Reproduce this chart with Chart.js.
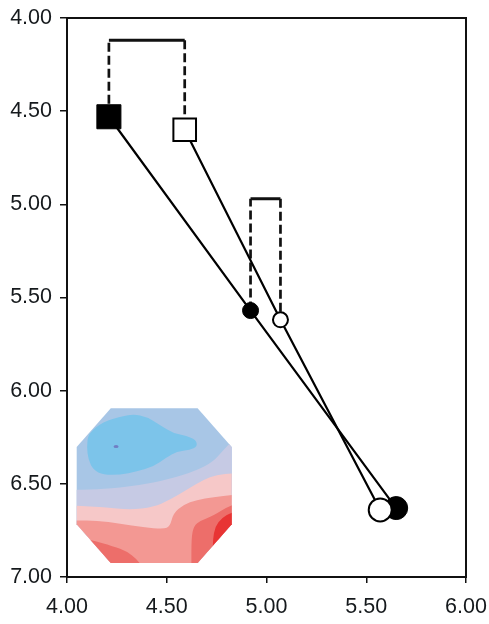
<!DOCTYPE html>
<html>
<head>
<meta charset="utf-8">
<script src="https://cdn.jsdelivr.net/npm/chart.js@4.4.1/dist/chart.umd.min.js"></script>
<style>
  html, body { margin: 0; padding: 0; background: #ffffff; }
  #wrap { width: 489px; height: 624px; position: relative; }
</style>
</head>
<body>
<div id="wrap"><canvas id="chart" width="489" height="624"></canvas></div>
<script>
// Series values: three stages per condition (x, y)
const filledX = [4.21, 4.92, 5.65];
const filledY = [4.53, 5.57, 6.63];
const openX   = [4.59, 5.07, 5.57];
const openY   = [4.60, 5.62, 6.64];

// Levels of the comparison brackets joining stage 1 and stage 2 pairs
const bracketY = [4.12, 4.97];

// Axis ticks
const xTicks = [4.00, 4.50, 5.00, 5.50, 6.00];
const yTicks = [4.00, 4.50, 5.00, 5.50, 6.00, 6.50, 7.00];

const pts = (xs, ys) => xs.map((x, i) => ({ x, y: ys[i] }));

// Each bracket: dashed leg up from the filled marker, solid bar across,
// dashed leg down to the open marker
const bracketDatasets = [];
bracketY.forEach((level, i) => {
  const legStyle = { borderColor: '#111', borderWidth: 2.7, borderDash: [9, 4] };
  const barStyle = { borderColor: '#111', borderWidth: 3, borderDash: [] };
  [
    [[filledX[i], filledY[i]], [filledX[i], level], legStyle],
    [[filledX[i], level], [openX[i], level], barStyle],
    [[openX[i], level], [openX[i], openY[i]], legStyle]
  ].forEach(([a, b, style]) => {
    bracketDatasets.push({
      data: [{ x: a[0], y: a[1] }, { x: b[0], y: b[1] }],
      showLine: true,
      pointRadius: 0,
      borderCapStyle: 'butt',
      order: 3,
      ...style
    });
  });
});

// Inset topographic map (drawn in a 0..100 box, octagon outline)
const insetBox = { x0: 4.0486, x1: 4.8256, y0: 6.095, y1: 6.925 };
const octagon = [[22,0],[78,0],[100,25],[100,75],[78,100],[22,100],[0,75],[0,25]];
const insetBands = [
  { color: 'rgb(198,202,228)',
    curve: [[-2,52.7],[0,52.7],[17.2,52.3],[38.7,50.1],[60.2,45.8],[77.4,40.2],[88.2,34.4],[94.6,26.9],[101,20.4],[110,14]],
    close: [[130,130],[-30,130]] },
  { color: 'rgb(246,200,200)',
    curve: [[-2,63],[0,63],[17.2,63.9],[34.4,65.6],[49.5,63.9],[60.2,59.1],[71,52.7],[81.7,46.2],[90.3,43],[101,41.9],[110,41.5]],
    close: [[130,130],[-30,130]] },
  { color: 'rgb(243,152,147)',
    curve: [[-2,72.5],[0,72.5],[12.9,72.5],[28,74.6],[43,76.8],[55.9,78.1],[60.2,76.3],[62.4,67.7],[68.8,62.4],[77.4,59.1],[88.2,57.4],[101,55.9],[110,55.5]],
    close: [[130,130],[-30,130]] },
  { color: 'rgb(237,110,106)',
    curve: [[74,110],[74,101],[74,84],[75.5,76],[80,72.5],[88,69.5],[99.5,62.3],[110,60]],
    close: [[130,130]] },
  { color: 'rgb(237,110,106)',
    curve: [[-5,82],[8.6,84.9],[23.7,89.2],[32.3,92.5],[38.7,97.4],[41.9,102],[42,110]],
    close: [[-30,130]] },
  { color: 'rgb(232,52,52)',
    curve: [[86,100],[87.9,90],[87.9,85],[89.2,76.6],[93.7,70.8],[99.5,67.5],[110,65]],
    close: [[130,130]] },
  { color: 'rgb(124,196,234)', closed: true,
    curve: [[6.5,24.7],[7.5,16.1],[17.2,8.6],[28,5.4],[36.6,3.7],[45.2,5.4],[53.8,10.8],[62.4,16.1],[71,17.8],[77,20.4],[77.8,24.7],[73.1,26.9],[64.5,28],[58.1,31.6],[49.5,37.6],[38.7,40.9],[28,43],[17.2,43],[10.8,39.8],[7.5,33.3]] }
];
const insetDot = { u: 25.4, v: 24.7, rx: 1.6, ry: 1.0, color: 'rgb(112,126,196)' };

function smoothOpen(ctx, p) {
  ctx.moveTo(p[0][0], p[0][1]);
  for (let i = 1; i < p.length - 1; i++) {
    const mx = (p[i][0] + p[i + 1][0]) / 2, my = (p[i][1] + p[i + 1][1]) / 2;
    ctx.quadraticCurveTo(p[i][0], p[i][1], mx, my);
  }
  ctx.lineTo(p[p.length - 1][0], p[p.length - 1][1]);
}
function smoothClosed(ctx, p) {
  const n = p.length;
  const mid = (a, b) => [(a[0] + b[0]) / 2, (a[1] + b[1]) / 2];
  const start = mid(p[n - 1], p[0]);
  ctx.moveTo(start[0], start[1]);
  for (let i = 0; i < n; i++) {
    const m = mid(p[i], p[(i + 1) % n]);
    ctx.quadraticCurveTo(p[i][0], p[i][1], m[0], m[1]);
  }
  ctx.closePath();
}

const insetPlugin = {
  id: 'insetMap',
  beforeDatasetsDraw(chart) {
    const { ctx, scales: { x, y } } = chart;
    const left = x.getPixelForValue(insetBox.x0), right = x.getPixelForValue(insetBox.x1);
    const top = y.getPixelForValue(insetBox.y0), bottom = y.getPixelForValue(insetBox.y1);
    const sx = (right - left) / 100, sy = (bottom - top) / 100;
    ctx.save();
    ctx.translate(left, top);
    ctx.scale(sx, sy);
    ctx.beginPath();
    octagon.forEach(([u, v], i) => i ? ctx.lineTo(u, v) : ctx.moveTo(u, v));
    ctx.closePath();
    ctx.fillStyle = 'rgb(168,198,230)';
    ctx.fill();
    ctx.clip();
    insetBands.forEach(b => {
      ctx.beginPath();
      if (b.closed) {
        smoothClosed(ctx, b.curve);
      } else {
        smoothOpen(ctx, b.curve);
        b.close.forEach(([u, v]) => ctx.lineTo(u, v));
        ctx.closePath();
      }
      ctx.fillStyle = b.color;
      ctx.fill();
    });
    ctx.beginPath();
    ctx.ellipse(insetDot.u, insetDot.v, insetDot.rx, insetDot.ry, 0, 0, Math.PI * 2);
    ctx.fillStyle = insetDot.color;
    ctx.fill();
    ctx.restore();
  }
};

// Closed frame around the plotting area
const framePlugin = {
  id: 'frame',
  afterDraw(chart) {
    const { ctx, chartArea: a } = chart;
    ctx.save();
    ctx.strokeStyle = '#111';
    ctx.lineWidth = 2;
    ctx.strokeRect(a.left, a.top, a.right - a.left, a.bottom - a.top);
    ctx.restore();
  }
};

const tickFont = { family: '"Liberation Sans", Arial, sans-serif', size: 21.5 };
const tickColor = '#15191c';

new Chart(document.getElementById('chart'), {
  type: 'scatter',
  data: {
    datasets: [
      ...bracketDatasets,
      {
        label: 'filled',
        data: pts(filledX, filledY),
        showLine: true,
        borderColor: '#000',
        borderWidth: 2.2,
        pointStyle: ['rect', 'circle', 'circle'],
        pointRadius: [17, 8, 11.5],
        pointBackgroundColor: '#000',
        pointBorderColor: '#000',
        pointBorderWidth: 1,
        order: 2
      },
      {
        label: 'open',
        data: pts(openX, openY),
        showLine: true,
        borderColor: '#000',
        borderWidth: 2.2,
        pointStyle: ['rect', 'circle', 'circle'],
        pointRadius: [16, 7.5, 11.5],
        pointBackgroundColor: '#fff',
        pointBorderColor: '#000',
        pointBorderWidth: 2,
        order: 1
      }
    ]
  },
  options: {
    responsive: false,
    animation: false,
    events: [],
    layout: { padding: { top: 18, right: 23, left: 0, bottom: 0 } },
    plugins: { legend: { display: false }, tooltip: { enabled: false } },
    scales: {
      x: {
        type: 'linear',
        min: 4, max: 6,
        afterBuildTicks: s => { s.ticks = xTicks.map(v => ({ value: v })); },
        afterFit: s => { s.height = 47; s.paddingLeft = 0; s.paddingRight = 0; },
        ticks: { font: tickFont, color: tickColor, padding: 11, maxRotation: 0,
                 callback: v => Number(v).toFixed(2) },
        grid: { drawOnChartArea: false, drawTicks: true, tickLength: 6, color: '#111', lineWidth: 1.5 },
        border: { display: true, color: '#111', width: 2 }
      },
      y: {
        type: 'linear',
        reverse: true,
        min: 4, max: 7,
        afterBuildTicks: s => { s.ticks = yTicks.map(v => ({ value: v })); },
        afterFit: s => { s.width = 67; s.paddingTop = 0; s.paddingBottom = 0; },
        ticks: { font: tickFont, color: tickColor, padding: 8,
                 callback: v => Number(v).toFixed(2) },
        grid: { drawOnChartArea: false, drawTicks: true, tickLength: 7, color: '#111', lineWidth: 1.5 },
        border: { display: true, color: '#111', width: 2 }
      }
    }
  },
  plugins: [insetPlugin, framePlugin]
});
</script>
</body>
</html>
